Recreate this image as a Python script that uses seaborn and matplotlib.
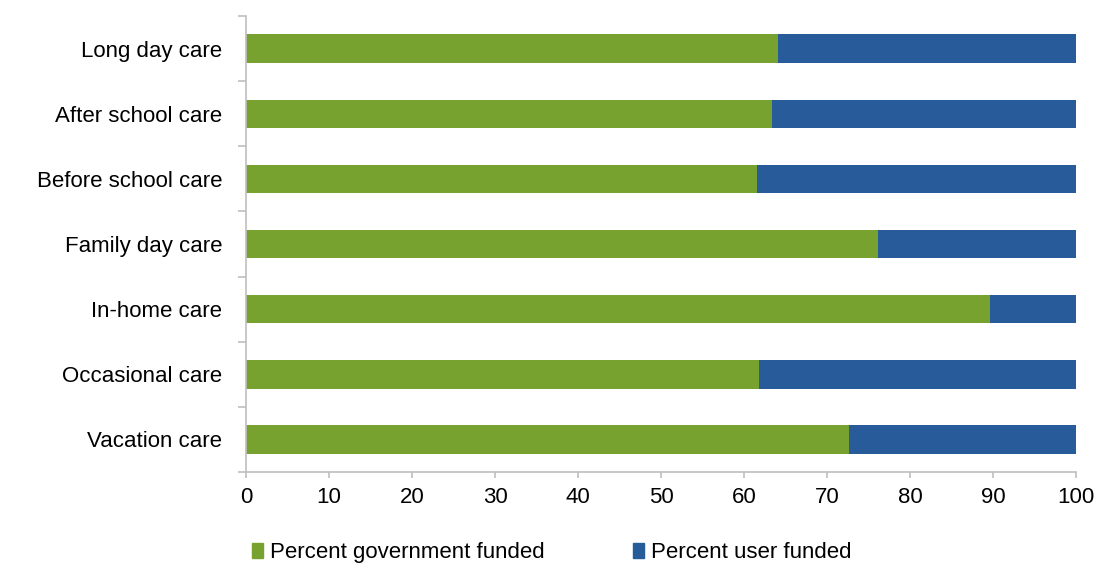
import matplotlib.pyplot as plt
import numpy as np
import pandas as pd
import seaborn as sns
from matplotlib.patches import Patch

# données
services = ["Long day care", "After school care", "Before school care", "Family day care",
            "In-home care", "Occasional care", "Vacation care"]
gov_funded = [64.1, 63.4, 61.6, 76.1, 89.6, 61.8, 72.6]
user_funded = [35.9, 36.6, 38.4, 23.9, 10.4, 38.2, 27.4]
x_ticks = [0, 10, 20, 30, 40, 50, 60, 70, 80, 90, 100]

green = "#78A22F"
blue = "#275B9A"
grey = "#BFBFBF"

df = pd.DataFrame({"service": services, "gov": gov_funded, "user": user_funded})
df["total"] = df["gov"] + df["user"]

sns.set_style("white")
plt.rcParams["font.family"] = ["Liberation Sans", "DejaVu Sans"]
plt.rcParams["font.size"] = 16
plt.rcParams["text.color"] = "black"
plt.rcParams["xtick.labelcolor"] = "black"
plt.rcParams["ytick.labelcolor"] = "black"

fig = plt.figure(figsize=(10.97, 5.64), dpi=100)
ax = fig.add_axes([0.2243, 0.163, 0.7566, 0.8086])

# barres empilées : total (bleu) puis part gouvernement (vert) par-dessus
sns.barplot(data=df, x="total", y="service", color=blue, width=0.435, saturation=1,
            linewidth=0, ax=ax)
sns.barplot(data=df, x="gov", y="service", color=green, width=0.435, saturation=1,
            linewidth=0, ax=ax)

ax.set_xlim(0, 100)
ax.set_ylim(len(services) - 0.5, -0.5)
ax.set_xticks(x_ticks)
ax.set_xlabel("")
ax.set_ylabel("")

# ticks aux frontières des catégories, étiquettes au centre
ax.set_yticks(np.arange(-0.5, len(services), 1))
ax.set_yticklabels([])
ax.set_yticks(range(len(services)), minor=True)
ax.set_yticklabels(services, minor=True)
ax.tick_params(axis="y", which="major", length=6, width=1.2, color=grey, direction="out", left=True)
ax.tick_params(axis="y", which="minor", length=0, pad=17, labelsize=16, labelcolor="black")
ax.tick_params(axis="x", length=4.5, width=1.2, color=grey, direction="out", bottom=True,
               pad=6, labelsize=16, labelcolor="black")

for side in ["top", "right"]:
    ax.spines[side].set_visible(False)
for side in ["left", "bottom"]:
    ax.spines[side].set_color(grey)
    ax.spines[side].set_linewidth(1.2)

handles = [Patch(color=green, label="Percent government funded"),
           Patch(color=blue, label="Percent user funded")]
fig.legend(handles=handles, loc="center", bbox_to_anchor=(0.503, 0.02), ncol=2, frameon=False,
           handlelength=0.5, handleheight=0.7, handletextpad=0.3, columnspacing=4.0, fontsize=16)

fig.savefig("out.png", dpi=100)
